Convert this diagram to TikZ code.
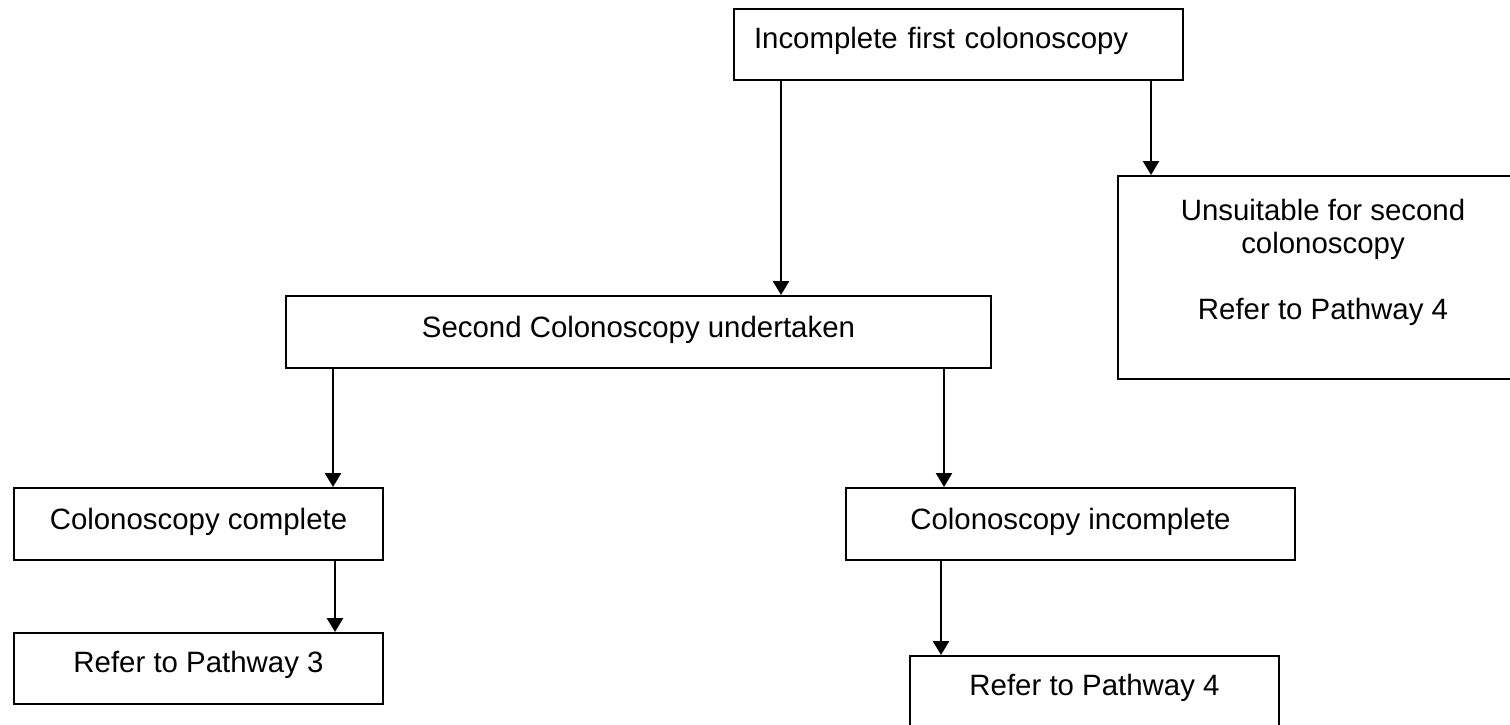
\documentclass[tikz,border=0pt]{standalone}
\usepackage{fontspec}
\setmainfont{Liberation Sans}
\usetikzlibrary{arrows.meta}

\begin{document}
\begin{tikzpicture}[
    x=0.5pt, y=-0.5pt,
    font=\fontsize{14.7pt}{16.5pt}\selectfont,
    box/.style={rectangle, draw=black, line width=1pt, inner xsep=0pt, inner ysep=0pt, anchor=north west, align=center},
    arrow/.style={-{Triangle[width=8pt, length=7pt]}, line width=1.3pt},
    ]
    \useasboundingbox (0,0) rectangle (1510,724);

    % First colonoscopy
    \node[box, inner xsep=10pt, text width=204.5pt, align=left, text height=19.5pt, text depth=16pt] (first) at (733,8) {Incomplete first colonoscopy};

    % Unsuitable
    \node[box, minimum width=205pt, text height=71.5pt, text depth=30pt] (unsuitable) at (1117,175) {Unsuitable for second\\colonoscopy\\[16.5pt]Refer to Pathway 4};

    % Second colonoscopy
    \node[box, minimum width=352.5pt, text height=20.5pt, text depth=15.5pt] (second) at (285,295) {Second Colonoscopy undertaken};

    % Outcomes
    \node[box, minimum width=184.5pt, text height=20.5pt, text depth=15.5pt] (complete) at (13,487) {Colonoscopy complete};
    \node[box, minimum width=224.5pt, text height=20.5pt, text depth=15.5pt] (incomplete) at (845,487) {Colonoscopy incomplete};

    % Referrals
    \node[box, minimum width=184.5pt, text height=19.5pt, text depth=16pt] (path3) at (13,632) {Refer to Pathway 3};
    \node[box, minimum width=184.5pt, text height=19.5pt, text depth=30pt] (path4) at (909,655) {Refer to Pathway 4};

    % Arrows
    \draw[arrow] ([xshift=24pt]first.south west) -- ([xshift=24pt]first.south west |- second.north);
    \draw[arrow] ([xshift=-16.5pt]first.south east) -- ([xshift=-16.5pt]first.south east |- unsuitable.north);
    \draw[arrow] ([xshift=24pt]second.south west) -- ([xshift=24pt]second.south west |- complete.north);
    \draw[arrow] ([xshift=-24pt]second.south east) -- ([xshift=-24pt]second.south east |- incomplete.north);
    \draw[arrow] ([xshift=-24.5pt]complete.south east) -- ([xshift=-24.5pt]complete.south east |- path3.north);
    \draw[arrow] ([xshift=48pt]incomplete.south west) -- ([xshift=48pt]incomplete.south west |- path4.north);

\end{tikzpicture}
\end{document}
